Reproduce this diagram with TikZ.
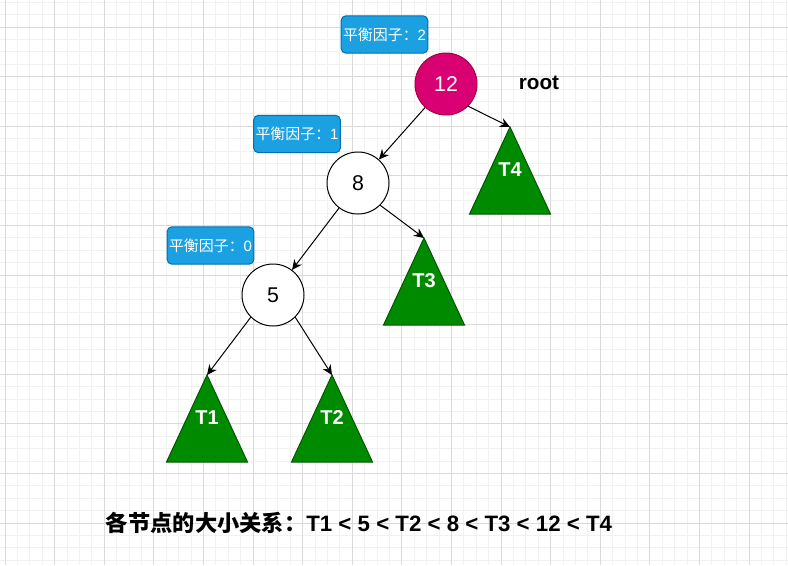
\documentclass[tikz,border=0pt]{standalone}
\usepackage{fontspec}
\setmainfont{Liberation Sans}
\newfontfamily\cjk{Noto Sans CJK SC}
\usetikzlibrary{arrows.meta}
\definecolor{gridmajor}{RGB}{218,218,218}
\definecolor{gridminor}{RGB}{241,241,241}
\definecolor{bfblue}{RGB}{27,161,226}
\definecolor{bfblueline}{RGB}{0,110,175}
\definecolor{rootpink}{RGB}{216,0,115}
\definecolor{rootpinkline}{RGB}{165,0,64}
\definecolor{subgreen}{RGB}{0,138,0}
\definecolor{subgreenline}{RGB}{0,87,0}

\tikzset{
  keynode/.style={circle,draw=black,fill=white,line width=0.75pt,minimum size=46.5pt,inner sep=0pt,font=\fontsize{16}{19}\selectfont},
  rootnode/.style={keynode,draw=rootpinkline,fill=rootpink,text=white},
  bfbox/.style={rounded corners=3.5pt,draw=bfblueline,fill=bfblue,text=white,line width=0.75pt,minimum width=65pt,minimum height=28pt,inner sep=0pt,font=\fontsize{11.2}{13}\selectfont},
  subtree/.style={draw=subgreenline,fill=subgreen,line width=0.75pt},
  treelbl/.style={text=white,font=\bfseries\fontsize{15}{18}\selectfont},
  link/.style={-{Stealth[length=7.5pt,width=7pt]},line width=0.75pt}
}

\begin{document}
\begin{tikzpicture}[x=0.75pt,y=-0.75pt]
        \useasboundingbox (0,0) rectangle (788,565);
        \fill[white] (0,0) rectangle (788,565);
        % background grid
        \foreach \i in {1,...,64}
          \draw[gridminor,line width=0.75pt] ({-7.4+12.4*\i},0) -- ++(0,565);
        \foreach \j in {0,...,45}
          \draw[gridminor,line width=0.75pt] (0,{2.2+12.4*\j}) -- ++(788,0);
        \foreach \i in {0,...,15}
          \draw[gridmajor,line width=0.75pt] ({5+49.6*\i},0) -- ++(0,565);
        \foreach \j in {0,...,10}
          \draw[gridmajor,line width=0.75pt] (0,{27+49.6*\j}) -- ++(788,0);
        % subtrees
        \foreach \nm/\lbl/\x/\y in {t1/T1/207/375,t2/T2/332/375,t3/T3/424/238,t4/T4/510/127} {
          \draw[subtree] (\x-40.5,\y+87) -- (\x,\y) -- (\x+40.5,\y+87) -- cycle;
          \coordinate (\nm) at (\x,\y);
          \node[treelbl] (lbl\nm) at (\x,\y+43) {\lbl};
        }
        \node[rootnode] (n12) at (446,84) {12};
        \node[keynode] (n8) at (358,183) {8};
        \node[keynode] (n5) at (273,295) {5};
        \node[bfbox] (bf12) at (384.5,34.5) {{\cjk 平衡因子：}2};
        \node[bfbox] (bf8) at (297,134) {{\cjk 平衡因子：}1};
        \node[bfbox] (bf5) at (210.5,245.5) {{\cjk 平衡因子：}0};
        \node[font=\bfseries\fontsize{15.5}{18}\selectfont] (rootlbl) at (539,83) {root};
        \draw[link] (n12.south east) -- (t4);
        \draw[link] (n12) -- (n8);
        \draw[link] (n8) -- (n5);
        \draw[link] (n8.south east) -- (t3);
        \draw[link] (n5.south west) -- (t1);
        \draw[link] (n5.south east) -- (t2);
        \node[font=\bfseries\fontsize{16.7}{20}\selectfont] (order) at (359,523)
          {{\cjk 各节点的大小关系：}T1 < 5 < T2 < 8 < T3 < 12 < T4};
      \end{tikzpicture}
\end{document}
